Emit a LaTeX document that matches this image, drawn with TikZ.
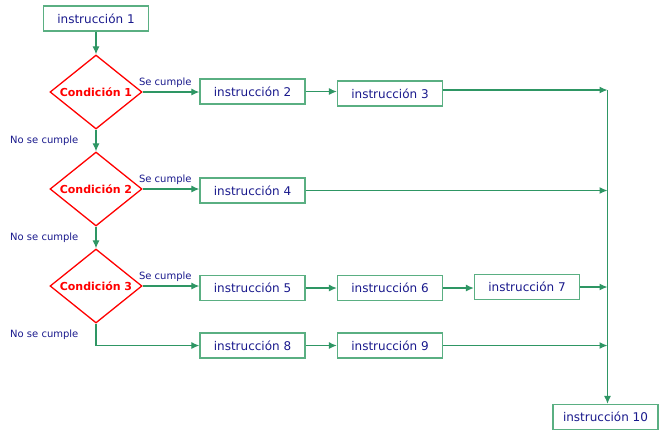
\documentclass[tikz,border=0pt]{standalone}
\usepackage{fontspec}
\setmainfont{DejaVu Sans}
\usetikzlibrary{shapes.geometric,arrows.meta}
\definecolor{linegreen}{RGB}{46,150,100}
\definecolor{boxgreen}{RGB}{90,175,130}
\definecolor{textblue}{RGB}{25,25,140}

\begin{document}
\begin{tikzpicture}[x=1pt,y=-1pt,
    flow/.style={draw=linegreen,line width=1.2pt,-{Latex[length=8pt,width=7pt]}}]
      \useasboundingbox (0,0) rectangle (672,440);
      \begin{scope}[every node/.style={draw=boxgreen,line width=1.3pt,text=textblue,minimum width=105pt,minimum height=25pt,inner sep=0pt,font=\fontsize{12}{14}\selectfont}]
        \node (instr1) at (96,18.5) {instrucción 1};
        \node (instr2) at (252.5,91.5) {instrucción 2};
        \node (instr3) at (390,93.5) {instrucción 3};
        \node (instr4) at (252.5,190.5) {instrucción 4};
        \node (instr5) at (252.5,288) {instrucción 5};
        \node (instr6) at (390,288) {instrucción 6};
        \node (instr7) at (527,287) {instrucción 7};
        \node (instr8) at (252.5,345.5) {instrucción 8};
        \node (instr9) at (390,345.5) {instrucción 9};
        \node (instr10) at (605.5,417) {instrucción 10};
      \end{scope}
      \begin{scope}[every node/.style={diamond,aspect=1.25,draw=red,line width=1.3pt,text=red,minimum width=92pt,minimum height=74pt,inner sep=0pt,font=\bfseries\fontsize{11}{13}\selectfont}]
        \node (cond1) at (96,92) {Condición 1};
        \node (cond2) at (96,189) {Condición 2};
        \node (cond3) at (96,286) {Condición 3};
      \end{scope}
      \coordinate (join1) at (607.5,90);
      \coordinate (join2) at (607.5,190.5);
      \coordinate (join3) at (607.5,287);
      \coordinate (join4) at (607.5,345.5);
      \begin{scope}[every edge/.style={flow},
          every node/.style={text=textblue,inner sep=2pt,font=\fontsize{10}{12}\selectfont}]
        \path (instr1) edge (cond1);
        \path (cond1) edge node[left=15pt] {No se cumple} (cond2);
        \path (cond2) edge node[left=15pt] {No se cumple} (cond3);
        \draw[flow] (cond3.south) |- node[pos=0.25,left=15pt] {No se cumple} (instr8.west);
        \path (cond1.east) edge node[above,pos=0.4,yshift=2pt] {Se cumple} (instr2.west |- cond1.east);
        \path (cond2.east) edge node[above,pos=0.4,yshift=2pt] {Se cumple} (instr4.west |- cond2.east);
        \path (cond3.east) edge node[above,pos=0.4,yshift=2pt] {Se cumple} (instr5.west |- cond3.east);
        \path (instr2) edge (instr2 -| instr3.west);
        \path (instr5) edge (instr6);
        \path (instr6) edge (instr6 -| instr7.west);
        \path (instr8) edge (instr9);
        \path (instr3.east |- join1) edge (join1);
        \path (instr4) edge (join2);
        \path (instr7) edge (join3);
        \path (instr9) edge (join4);
        \draw[flow] (join1) -- (join1 |- instr10.north);
      \end{scope}
    \end{tikzpicture}
\end{document}
